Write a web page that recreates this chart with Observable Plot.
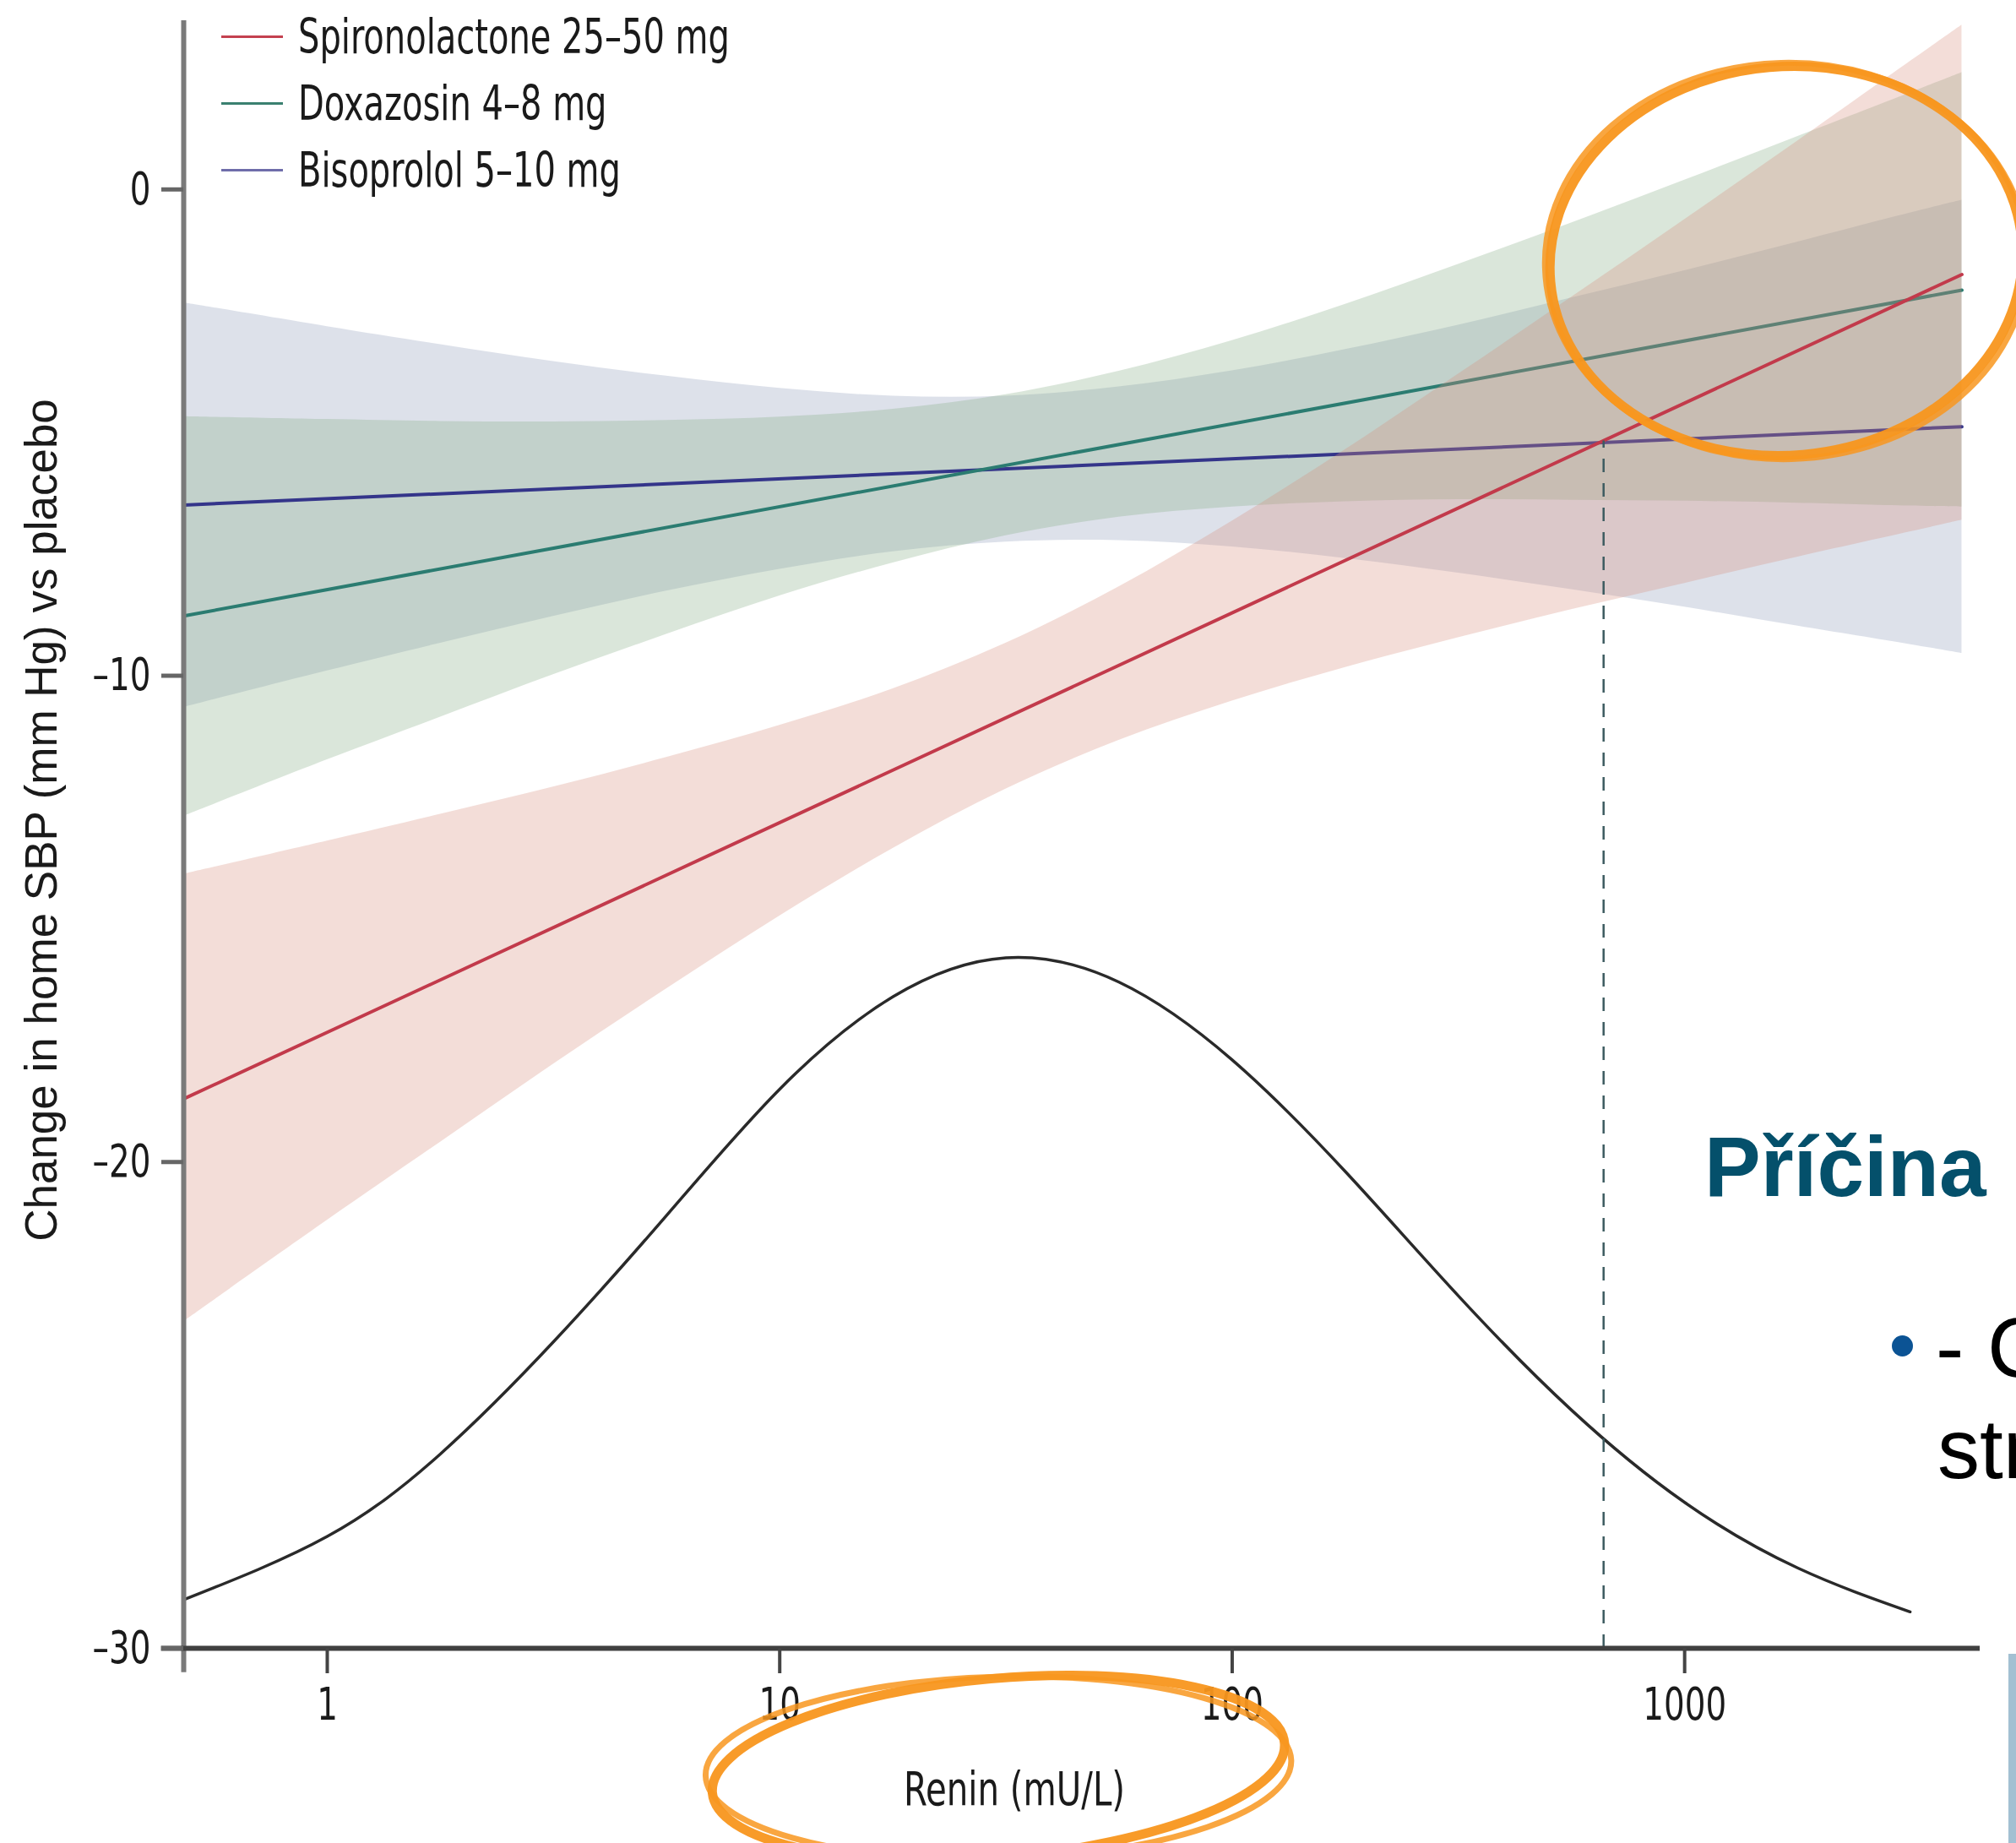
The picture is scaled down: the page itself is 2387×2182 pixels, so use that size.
<!DOCTYPE html>
<html><head><meta charset="utf-8">
<script src="https://cdn.jsdelivr.net/npm/d3@7"></script>
<script src="https://cdn.jsdelivr.net/npm/@observablehq/plot@0.6"></script>
<style>
html,body{margin:0;padding:0;background:#fff;overflow:hidden;}
#wrap{position:relative;width:2387px;height:2182px;overflow:hidden;background:#fff;}
#chart{position:absolute;left:0;top:0;}
.leg{position:absolute;left:262px;height:60px;display:flex;align-items:center;font-family:"Liberation Sans Narrow","DejaVu Sans Condensed",sans-serif;font-size:57px;color:#1a1a1a;white-space:nowrap;}
.leg span.ln{display:inline-block;width:73px;height:3px;margin-right:18px;}
.leg span.tx{display:inline-block;transform:scaleX(0.78);transform-origin:0 50%;}
.slide{position:absolute;font-family:"Liberation Sans",Arial,sans-serif;white-space:nowrap;line-height:1;}
</style></head>
<body><div id="wrap"><div id="chart"></div></div>
<script>
// ---- data ----
const drugs = ["Spironolactone 25–50 mg", "Doxazosin 4–8 mg", "Bisoprolol 5–10 mg"];
const renin = [0.482, 1, 1.78, 3.16, 5.62, 10, 17.8, 31.6, 56.2, 100, 178, 316, 562, 1000, 1780, 3160, 4100];
const spiroHi = [-14.08, -13.40, -12.85, -12.29, -11.68, -11.02, -10.27, -9.33, -8.17, -6.82, -5.35, -3.80, -2.22, -0.62, 1.00, 2.64, 3.38];
const spiroLo = [-23.28, -21.20, -19.59, -17.99, -16.44, -14.94, -13.55, -12.33, -11.33, -10.52, -9.83, -9.22, -8.64, -8.10, -7.56, -7.04, -6.80];
const doxaHi = [-4.67, -4.73, -4.77, -4.78, -4.75, -4.68, -4.52, -4.22, -3.74, -3.11, -2.36, -1.54, -0.69, 0.19, 1.09, 1.99, 2.40];
const doxaLo = [-12.89, -11.73, -10.85, -9.98, -9.15, -8.36, -7.68, -7.12, -6.74, -6.53, -6.42, -6.38, -6.39, -6.41, -6.45, -6.51, -6.53];
const bisoHi = [-2.33, -2.82, -3.19, -3.54, -3.84, -4.09, -4.25, -4.25, -4.06, -3.73, -3.29, -2.79, -2.23, -1.67, -1.08, -0.48, -0.22];
const bisoLo = [-10.65, -9.90, -9.33, -8.78, -8.26, -7.81, -7.45, -7.25, -7.22, -7.35, -7.59, -7.89, -8.23, -8.59, -8.98, -9.36, -9.54];
const lineRenin = [0.482, 4100];
const spiroMid = [-18.70, -1.75];
const doxaMid = [-8.77, -2.07];
const bisoMid = [-6.49, -4.88];
const densityRenin = [0.482, 1, 1.78, 3.16, 5.62, 10, 17.8, 31.6, 56.2, 100, 178, 316, 562, 1000, 1780, 3150];
const density = [-29.0, -27.7, -26.0, -23.7, -21.1, -18.5, -16.6, -15.8, -16.3, -17.9, -20.2, -22.75, -25.1, -27.0, -28.35, -29.25];
const crossRenin = 662, crossY = -5.17;
const xTicks = [1, 10, 100, 1000];
const yTicks = [0, -10, -20, -30];
const xLabel = "Renin (mU/L)";
const yLabel = "Change in home SBP (mm Hg) vs placebo";
const annotRenin = [1680, 30.5];
const annotMmhg = [-1.48, -32.47];

// ---- styles ----
const lineColor = ["#c23a4b", "#2b7c71", "#34358a"];
const legendColor = ["#c4414f", "#3a8070", "#6f6daa"];
const bandFill = ["#d78e7d", "#84ac84", "#8e9bb9"];
const annotSize = [{rx: 280, ry: 230}, {rx: 340, ry: 106}];
const narrow = '"Liberation Sans Narrow","DejaVu Sans Condensed",sans-serif';
const squeeze = 0.8;

const bandRows = (hi, lo) => renin.map((x, i) => ({x, hi: hi[i], lo: lo[i]}));
const lineRows = (mid) => lineRenin.map((x, i) => ({x, y: mid[i]}));
const densRows = densityRenin.map((x, i) => ({x, y: density[i]}));

const xMin = 0.4816, xMax = 4498;

function annotationMark(index, scales) {
  const g = d3.create("svg:g");
  annotRenin.forEach((r, i) => {
    const cx = scales.x(r), cy = scales.y(annotMmhg[i]);
    const {rx, ry} = annotSize[i];
    [{k: 1, rot: -5, w: 11, o: 0.95}, {k: 1.02, rot: -1.5, w: 7, o: 0.85}].forEach(s => {
      g.append("ellipse")
        .attr("cx", cx).attr("cy", cy)
        .attr("rx", rx * s.k).attr("ry", ry * s.k)
        .attr("transform", `rotate(${s.rot},${cx},${cy})`)
        .attr("fill", "none").attr("stroke", "#f8961e")
        .attr("stroke-width", s.w).attr("opacity", s.o);
    });
  });
  return g.node();
}

const chart = Plot.plot({
  width: 2387, height: 2182,
  marginLeft: 217, marginRight: 43, marginTop: 24, marginBottom: 231,
  x: {type: "log", domain: [xMin, xMax]},
  y: {domain: [-30, 3.47]},
  style: {fontFamily: narrow, fontSize: "54px", color: "#1a1a1a", background: "transparent", overflow: "visible"},
  marks: [
    Plot.areaY(bandRows(bisoHi, bisoLo), {x: "x", y1: "lo", y2: "hi", fill: bandFill[2], fillOpacity: 0.3, curve: "catmull-rom"}),
    Plot.areaY(bandRows(doxaHi, doxaLo), {x: "x", y1: "lo", y2: "hi", fill: bandFill[1], fillOpacity: 0.3, curve: "catmull-rom"}),
    Plot.line(lineRows(bisoMid), {x: "x", y: "y", stroke: lineColor[2], strokeWidth: 4}),
    Plot.line(lineRows(doxaMid), {x: "x", y: "y", stroke: lineColor[1], strokeWidth: 4}),
    Plot.areaY(bandRows(spiroHi, spiroLo), {x: "x", y1: "lo", y2: "hi", fill: bandFill[0], fillOpacity: 0.3, curve: "catmull-rom"}),
    Plot.line(lineRows(spiroMid), {x: "x", y: "y", stroke: lineColor[0], strokeWidth: 4}),
    Plot.line(densRows, {x: "x", y: "y", stroke: "#2a2a2a", strokeWidth: 3.5, curve: "natural"}),
    Plot.ruleX([crossRenin], {y1: -30, y2: crossY, stroke: "#3d5b60", strokeWidth: 2.5, strokeDasharray: "16,13"}),
    Plot.ruleX([xMin], {y1: -30.5, y2: 3.47, stroke: "#7a7a7a", strokeWidth: 6}),
    Plot.ruleY([-30], {x1: 0.43, x2: xMax, stroke: "#404040", strokeWidth: 6}),
    Plot.axisY({ticks: yTicks, tickSize: 26, tickPadding: 13, stroke: "#666", strokeWidth: 5, tickFormat: d => (d < 0 ? "–" + Math.abs(d) : String(d)), fontSize: 54, label: null}),
    Plot.axisX({ticks: xTicks, tickSize: 30, tickPadding: 16, stroke: "#444", strokeWidth: 4, tickFormat: d => String(d), fontSize: 54, label: null}),
    Plot.text([xLabel], {frameAnchor: "bottom", dx: -80, dy: 168, text: d => d, fontSize: 56, textAnchor: "middle", lineAnchor: "middle", fill: "#1a1a1a"}),
    Plot.text([yLabel], {frameAnchor: "left", rotate: -90, dx: -167, dy: -17, text: d => d, fontSize: 53, fontFamily: '"Liberation Sans",Arial,sans-serif', textAnchor: "middle", lineAnchor: "middle", fill: "#1a1a1a"}),
    annotationMark
  ]
});
document.getElementById("chart").appendChild(chart);

// condense the narrow-font chart texts (no narrow face is installed)
chart.querySelectorAll("text").forEach(t => {
  if (t.textContent === yLabel) return;
  const len = t.getComputedTextLength();
  if (len > 0) {
    t.setAttribute("textLength", (len * squeeze).toFixed(1));
    t.setAttribute("lengthAdjust", "spacingAndGlyphs");
  }
});

const wrap = document.getElementById("wrap");
// legend
const legTops = [13, 92, 171];
drugs.forEach((name, i) => {
  const d = document.createElement("div");
  d.className = "leg";
  d.style.top = legTops[i] + "px";
  d.innerHTML = `<span class="ln" style="background:${legendColor[i]}"></span><span class="tx">${name}</span>`;
  wrap.appendChild(d);
});
// slide texts
function addText(txt, left, top, size, weight, color) {
  const d = document.createElement("div");
  d.className = "slide";
  d.textContent = txt;
  Object.assign(d.style, {left: left + "px", top: top + "px", fontSize: size + "px", fontWeight: weight, color});
  wrap.appendChild(d);
}
addText("Příčina", 2018, 1331, 100, "bold", "#04506b");
addText("- C", 2292, 1545, 100, "normal", "#000");
addText("str", 2294, 1665, 100, "normal", "#000");
const dot = document.createElement("div");
Object.assign(dot.style, {position: "absolute", left: "2240px", top: "1581px", width: "25px", height: "25px", borderRadius: "50%", background: "#0b5394"});
wrap.appendChild(dot);
const bar = document.createElement("div");
Object.assign(bar.style, {position: "absolute", left: "2378px", top: "1958px", width: "9px", height: "224px", background: "#a3c0d2"});
wrap.appendChild(bar);
</script></body></html>
